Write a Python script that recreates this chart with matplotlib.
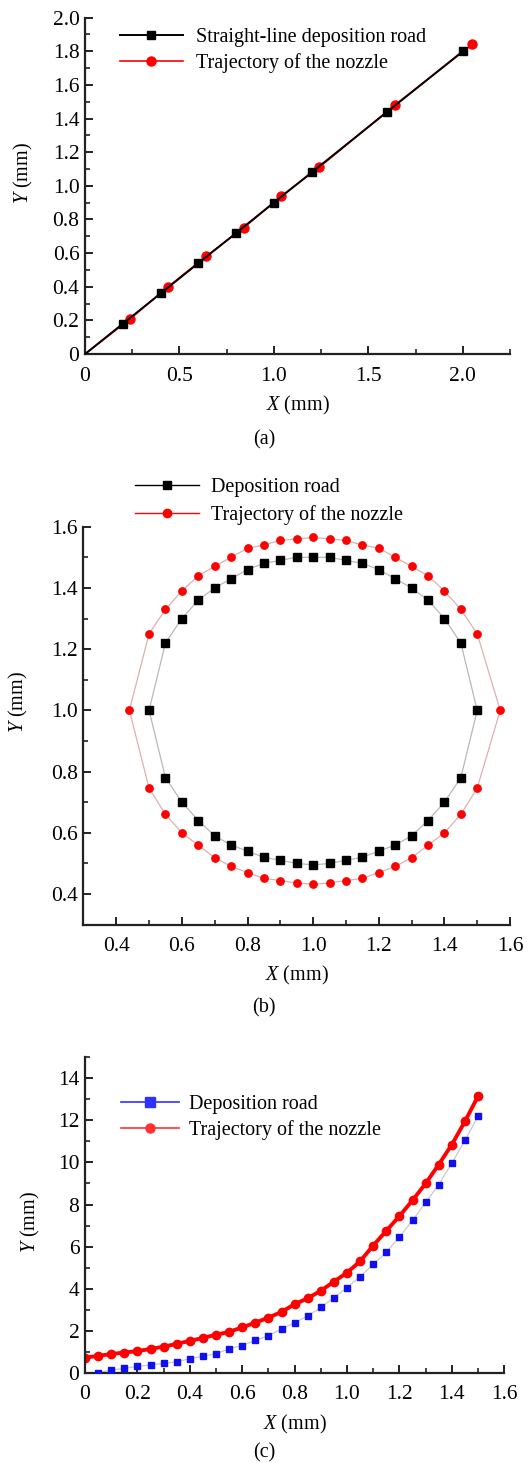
import numpy as np
import matplotlib
matplotlib.use("Agg")
import matplotlib.pyplot as plt
from matplotlib.ticker import MultipleLocator, FuncFormatter

plt.rcParams['font.family'] = ['Liberation Serif', 'DejaVu Serif']
plt.rcParams['mathtext.fontset'] = 'custom'
plt.rcParams['mathtext.rm'] = 'Liberation Serif'
plt.rcParams['mathtext.it'] = 'Liberation Serif:italic'

# ---------------- datos (a) ----------------
a_road_x = [0.0, 0.2, 0.4, 0.6, 0.8, 1.0, 1.2, 1.6, 2.0]
a_road_y = [0.0, 0.18, 0.36, 0.54, 0.72, 0.90, 1.08, 1.44, 1.80]
a_noz_x = [0.0, 0.24, 0.44, 0.64, 0.84, 1.04, 1.24, 1.64, 2.05]
a_noz_y = [0.0, 0.21, 0.40, 0.58, 0.75, 0.94, 1.11, 1.48, 1.84]

# ---------------- datos (b) ----------------
b_road_up_x = [0.50, 0.55, 0.60, 0.65, 0.70, 0.75, 0.80, 0.85, 0.90, 0.95, 1.00,
               1.05, 1.10, 1.15, 1.20, 1.25, 1.30, 1.35, 1.40, 1.45, 1.50]
b_road_up_y = [1.00, 1.22, 1.30, 1.36, 1.40, 1.43, 1.46, 1.48, 1.49, 1.50, 1.50,
               1.50, 1.49, 1.48, 1.46, 1.43, 1.40, 1.36, 1.30, 1.22, 1.00]
b_road_lo_x = [0.55, 0.60, 0.65, 0.70, 0.75, 0.80, 0.85, 0.90, 0.95, 1.00,
               1.05, 1.10, 1.15, 1.20, 1.25, 1.30, 1.35, 1.40, 1.45]
b_road_lo_y = [0.78, 0.70, 0.64, 0.59, 0.56, 0.54, 0.52, 0.51, 0.50, 0.495,
               0.50, 0.51, 0.52, 0.54, 0.56, 0.59, 0.64, 0.70, 0.78]
b_noz_up_x = [0.44, 0.50, 0.55, 0.60, 0.65, 0.70, 0.75, 0.80, 0.85, 0.90, 0.95, 1.00,
              1.05, 1.10, 1.15, 1.20, 1.25, 1.30, 1.35, 1.40, 1.45, 1.50, 1.57]
b_noz_up_y = [1.00, 1.25, 1.33, 1.39, 1.44, 1.47, 1.50, 1.53, 1.54, 1.555, 1.56, 1.565,
              1.56, 1.555, 1.54, 1.53, 1.50, 1.47, 1.44, 1.39, 1.33, 1.25, 1.00]
b_noz_lo_x = [0.50, 0.55, 0.60, 0.65, 0.70, 0.75, 0.80, 0.85, 0.90, 0.95, 1.00,
              1.05, 1.10, 1.15, 1.20, 1.25, 1.30, 1.35, 1.40, 1.45, 1.50]
b_noz_lo_y = [0.746, 0.660, 0.600, 0.559, 0.519, 0.490, 0.470, 0.451, 0.444, 0.436, 0.432,
              0.436, 0.444, 0.451, 0.470, 0.490, 0.519, 0.559, 0.600, 0.660, 0.746]

# ---------------- datos (c) ----------------
c_road_x = [0.05, 0.10, 0.15, 0.20, 0.25, 0.30, 0.35, 0.40, 0.45, 0.50,
            0.55, 0.60, 0.65, 0.70, 0.75, 0.80, 0.85, 0.90, 0.95, 1.00,
            1.05, 1.10, 1.15, 1.20, 1.25, 1.30, 1.35, 1.40, 1.45, 1.50]
c_road_y = [0.0, 0.13, 0.21, 0.30, 0.37, 0.45, 0.52, 0.67, 0.78, 0.90,
            1.14, 1.29, 1.54, 1.76, 2.08, 2.38, 2.70, 3.11, 3.57, 4.05,
            4.57, 5.15, 5.73, 6.45, 7.24, 8.10, 8.94, 9.97, 11.05, 12.19]
c_noz_x = [0.0, 0.05, 0.10, 0.15, 0.20, 0.25, 0.30, 0.35, 0.40, 0.45, 0.50,
           0.55, 0.60, 0.65, 0.70, 0.75, 0.80, 0.85, 0.90, 0.95, 1.00,
           1.05, 1.10, 1.15, 1.20, 1.25, 1.30, 1.35, 1.40, 1.45, 1.50]
c_noz_y = [0.72, 0.80, 0.89, 0.96, 1.03, 1.13, 1.24, 1.37, 1.52, 1.65, 1.81,
           1.94, 2.16, 2.38, 2.62, 2.89, 3.26, 3.54, 3.90, 4.33, 4.76,
           5.30, 6.05, 6.75, 7.45, 8.20, 9.00, 9.90, 10.85, 11.95, 13.15]

TICK_FS = 15.5
LAB_FS = 14.5
LEG_FS = 14.5
SPINE = '#222222'


def fmt_dec(v, pos):
    # el cero va sin decimales, como en la figura original
    if abs(v) < 1e-9:
        return '0'
    return '%.1f' % v


def style_axes(ax, ylab_pos):
    for s in ['top', 'right']:
        ax.spines[s].set_visible(False)
    for s in ['left', 'bottom']:
        ax.spines[s].set_linewidth(1.6)
        ax.spines[s].set_color(SPINE)
    ax.tick_params(which='major', direction='in', length=6, width=1.4,
                   color=SPINE, labelsize=TICK_FS, pad=4)
    ax.tick_params(which='minor', direction='in', length=3.5, width=1.2, color=SPINE)
    ax.tick_params(axis='x', pad=9)
    ax.set_ylabel(r'$\mathit{Y}$ (mm)', fontsize=LAB_FS)
    ax.yaxis.set_label_coords(*ylab_pos)
    ax.set_xlabel(r'$\mathit{X}$ (mm)', fontsize=LAB_FS, labelpad=6)


fig = plt.figure(figsize=(5.28, 14.63), dpi=100)

# ---------------- (a) ----------------
ax1 = fig.add_axes([0.161, 0.758, 0.805, 0.230])
ax1.plot(a_noz_x, a_noz_y, color='red', lw=1.2, marker='o', ms=6.5,
         markevery=slice(1, None), label='Trajectory of the nozzle', zorder=2)
ax1.plot(a_road_x, a_road_y, color='black', lw=1.4, marker='s', ms=6,
         markevery=slice(1, None), label='Straight-line deposition road', zorder=3)
ax1.set_xlim(0, 2.25)
ax1.set_ylim(0, 2.0)
ax1.xaxis.set_major_locator(MultipleLocator(0.5))
ax1.xaxis.set_minor_locator(MultipleLocator(0.25))
ax1.yaxis.set_major_locator(MultipleLocator(0.2))
ax1.yaxis.set_minor_locator(MultipleLocator(0.1))
ax1.xaxis.set_major_formatter(FuncFormatter(fmt_dec))
ax1.yaxis.set_major_formatter(FuncFormatter(fmt_dec))
style_axes(ax1, (-0.118, 0.537))
h, l = ax1.get_legend_handles_labels()
ax1.legend(h[::-1], l[::-1], loc='upper left', bbox_to_anchor=(0.059, 1.0),
           frameon=False, fontsize=LEG_FS, handlelength=3.1, borderpad=0,
           labelspacing=0.3, handletextpad=0.65)
fig.text(0.5, 1 - 440 / 1463, '(a)', ha='center', va='center', fontsize=LAB_FS)

# ---------------- (b) ----------------
ax2 = fig.add_axes([0.158, 0.368, 0.808, 0.272])
road_lx = b_road_up_x + b_road_lo_x[::-1] + b_road_up_x[:1]
road_ly = b_road_up_y + b_road_lo_y[::-1] + b_road_up_y[:1]
noz_lx = b_noz_up_x + b_noz_lo_x[::-1] + b_noz_up_x[:1]
noz_ly = b_noz_up_y + b_noz_lo_y[::-1] + b_noz_up_y[:1]
ax2.plot(road_lx, road_ly, color='#b8b8b8', lw=0.9, zorder=1)
ax2.plot(noz_lx, noz_ly, color='#dcb0b0', lw=0.9, zorder=1)
ax2.plot(b_road_up_x + b_road_lo_x, b_road_up_y + b_road_lo_y, ls='none',
         marker='s', ms=5.5, color='black', zorder=3)
ax2.plot(b_noz_up_x + b_noz_lo_x, b_noz_up_y + b_noz_lo_y, ls='none',
         marker='o', ms=5.3, color='red', zorder=3)
ax2.plot([], [], color='black', lw=1.0, marker='s', ms=6, label='Deposition road')
ax2.plot([], [], color='red', lw=1.0, marker='o', ms=6, label='Trajectory of the nozzle')
ax2.set_xlim(0.3, 1.6)
ax2.set_ylim(0.3, 1.6)
ax2.xaxis.set_major_locator(MultipleLocator(0.2))
ax2.xaxis.set_minor_locator(MultipleLocator(0.1))
ax2.yaxis.set_major_locator(MultipleLocator(0.2))
ax2.yaxis.set_minor_locator(MultipleLocator(0.1))
ax2.xaxis.set_major_formatter(FuncFormatter(fmt_dec))
ax2.yaxis.set_major_formatter(FuncFormatter(fmt_dec))
style_axes(ax2, (-0.125, 0.56))
ax2.legend(loc='upper left', bbox_to_anchor=(0.097, 1.148), frameon=False,
           fontsize=LEG_FS, handlelength=3.2, borderpad=0, labelspacing=0.42,
           handletextpad=0.6)
fig.text(0.5, 1 - 1008 / 1463, '(b)', ha='center', va='center', fontsize=LAB_FS)

# ---------------- (c) ----------------
ax3 = fig.add_axes([0.161, 0.0617, 0.794, 0.2156])
ax3.plot(c_road_x, c_road_y, color='#c8c8d0', lw=0.9, zorder=1)
ax3.plot(c_road_x, c_road_y, ls='none', marker='s', ms=4, color='#1010ee', zorder=3)
ax3.plot(c_noz_x, c_noz_y, color='red', lw=2.8, marker='o', ms=6, zorder=2)
ax3.plot([], [], color='#3030ff', lw=1.2, marker='s', ms=6.5, label='Deposition road')
ax3.plot([], [], color='#ff3030', lw=1.2, marker='o', ms=6.5, label='Trajectory of the nozzle')
ax3.set_xlim(0, 1.6)
ax3.set_ylim(0, 15)
ax3.xaxis.set_major_locator(MultipleLocator(0.2))
ax3.xaxis.set_minor_locator(MultipleLocator(0.1))
ax3.yaxis.set_major_locator(MultipleLocator(2))
ax3.yaxis.set_minor_locator(MultipleLocator(1))
ax3.xaxis.set_major_formatter(FuncFormatter(fmt_dec))
style_axes(ax3, (-0.103, 0.479))
ax3.legend(loc='upper left', bbox_to_anchor=(0.061, 0.913), frameon=False,
           fontsize=LEG_FS, handlelength=2.9, borderpad=0, labelspacing=0.3,
           handletextpad=0.5)
fig.text(0.5, 1 - 1453 / 1463, '(c)', ha='center', va='center', fontsize=LAB_FS)

fig.savefig('out.png', dpi=100)
